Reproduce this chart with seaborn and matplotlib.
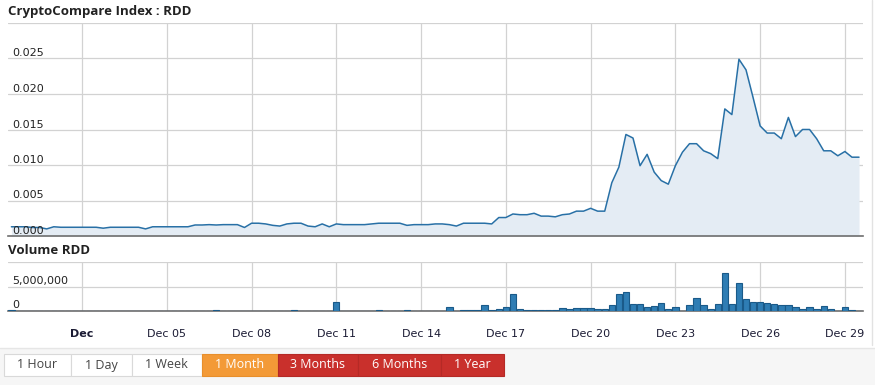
import numpy as np
import pandas as pd
import matplotlib
matplotlib.use("Agg")
import matplotlib.pyplot as plt
import seaborn as sns
from matplotlib.patches import Rectangle
from matplotlib.lines import Line2D
from matplotlib.transforms import blended_transform_factory

# ---------------- data ----------------
times = pd.date_range("2017-11-29 12:00", periods=121, freq="6h")

price = [
    0.0013, 0.0013, 0.0013, 0.0012, 0.0012, 0.0010, 0.0013, 0.00123, 0.00123, 0.00123,
    0.00123, 0.00123, 0.00123, 0.0011, 0.00123, 0.00123, 0.00123, 0.00123, 0.00123, 0.0010,
    0.0013, 0.0013, 0.0013, 0.0013, 0.0013, 0.0013, 0.00155, 0.00155, 0.0016, 0.00155,
    0.0016, 0.0016, 0.0016, 0.0012, 0.0018, 0.0018, 0.0017, 0.0015, 0.0014, 0.0017,
    0.0018, 0.0018, 0.0014, 0.0013, 0.0017, 0.0013, 0.0017, 0.0016, 0.0016, 0.0016,
    0.0016, 0.0017, 0.0018, 0.0018, 0.0018, 0.0018, 0.0015, 0.0016, 0.0016, 0.0016,
    0.0017, 0.0017, 0.0016, 0.0014, 0.0018, 0.0018, 0.0018, 0.0018, 0.0017, 0.0026,
    0.0026, 0.0031, 0.0030, 0.0030, 0.0032, 0.0028, 0.0028, 0.0027, 0.0030, 0.0031,
    0.0035, 0.0035, 0.0039, 0.0035, 0.0035, 0.0075, 0.0097, 0.0143, 0.0138, 0.0099,
    0.0115, 0.0090, 0.0078, 0.0073, 0.0099, 0.0118, 0.0130, 0.0130, 0.0120, 0.0116,
    0.0109, 0.0179, 0.0171, 0.0249, 0.0234, 0.0195, 0.0155, 0.0145, 0.0145, 0.0137,
    0.0167, 0.0140, 0.0150, 0.0150, 0.0137, 0.0120, 0.0120, 0.0113, 0.0119, 0.0111,
    0.0111,
]

volume = [
    200000, 30000, 30000, 30000, 30000, 30000, 30000, 30000, 30000, 30000,
    30000, 30000, 30000, 30000, 30000, 30000, 30000, 30000, 30000, 30000,
    30000, 30000, 30000, 30000, 30000, 30000, 30000, 30000, 30000, 200000,
    30000, 30000, 30000, 30000, 30000, 30000, 30000, 30000, 30000, 30000,
    200000, 30000, 30000, 30000, 30000, 30000, 1900000, 30000, 30000, 30000,
    30000, 30000, 200000, 30000, 30000, 30000, 200000, 30000, 30000, 30000,
    30000, 30000, 800000, 30000, 150000, 150000, 150000, 1270000, 150000, 500000,
    800000, 3400000, 500000, 300000, 300000, 150000, 150000, 150000, 550000, 350000,
    550000, 550000, 550000, 350000, 350000, 1270000, 3400000, 3800000, 1480000, 1480000,
    800000, 1000000, 1700000, 350000, 800000, 100000, 1270000, 2700000, 1270000, 500000,
    1480000, 7800000, 1480000, 5700000, 2460000, 1900000, 1900000, 1700000, 1480000, 1270000,
    1270000, 800000, 350000, 800000, 350000, 1060000, 350000, 30000, 800000, 150000,
    50000,
]

tick_days = [2, 5, 8, 11, 14, 17, 20, 23, 26, 29]
tick_labels = ["Dec", "Dec 05", "Dec 08", "Dec 11", "Dec 14", "Dec 17",
               "Dec 20", "Dec 23", "Dec 26", "Dec 29"]
price_grid = [0.0, 0.005, 0.010, 0.015, 0.020, 0.025, 0.030]
price_labels = ["0.000", "0.005", "0.010", "0.015", "0.020", "0.025"]
vol_grid = [0, 5000000, 10000000]
vol_labels = ["0", "5,000,000"]
buttons = ["1 Hour", "1 Day", "1 Week", "1 Month", "3 Months", "6 Months", "1 Year"]

# ---------------- style ----------------
sns.set_theme(style="white")
plt.rcParams["font.family"] = ["DejaVu Sans"]

W, H = 875, 385
fig = plt.figure(figsize=(W / 100, H / 100), dpi=100)
fig.patch.set_facecolor("white")


def axrect(x0, y0, x1, y1):
    return [x0 / W, 1 - y1 / H, (x1 - x0) / W, (y1 - y0) / H]


df = pd.DataFrame({
    "day": (times - pd.Timestamp("2017-11-30")) / pd.Timedelta(days=1),
    "price": price,
    "volume": volume,
})

LINE = "#2870a6"
FILL = "#e4ecf4"
GRID = "#d2d2d2"
XLIM = (-0.62, 29.63)

# ---------------- price panel ----------------
ax1 = fig.add_axes(axrect(8, 23, 862.7, 236))
ax1.fill_between(df["day"], df["price"], 0, color=FILL, lw=0, zorder=1)
sns.lineplot(data=df, x="day", y="price", ax=ax1, color=LINE, lw=1.1, zorder=3)
ax1.set_xlim(*XLIM)
ax1.set_ylim(0, 0.030)
ax1.set_xticks(tick_days)
ax1.set_yticks(price_grid)
ax1.grid(True, color=GRID, lw=0.9, zorder=0)
ax1.set_axisbelow(True)
ax1.tick_params(left=False, bottom=False, labelleft=False, labelbottom=False)
ax1.set_xlabel("")
ax1.set_ylabel("")
for s in ["top", "right", "left"]:
    ax1.spines[s].set_visible(False)
ax1.spines["bottom"].set_color("#6e6e6e")
ax1.spines["bottom"].set_linewidth(1.2)
tr1 = blended_transform_factory(ax1.transAxes, ax1.transData)
for v, lab in zip(price_grid, price_labels):
    ax1.text(0.005, v, lab, transform=tr1, ha="left", va="bottom", fontsize=8,
             color="#222222", zorder=5)
    
# ---------------- volume panel ----------------
ax2 = fig.add_axes(axrect(8, 262.3, 862.7, 311))
sns.barplot(data=df, x="day", y="volume", ax=ax2, native_scale=True, width=0.9,
            color="#2f7db4", edgecolor="#1a5a89", linewidth=0.8, saturation=1,
            errorbar=None, zorder=3)
ax2.set_xlim(*XLIM)
ax2.set_ylim(0, 10000000)
ax2.set_xticks(tick_days)
ax2.set_xticklabels(tick_labels)
ax2.set_yticks(vol_grid)
ax2.grid(True, color=GRID, lw=0.9, zorder=0)
ax2.set_axisbelow(True)
ax2.tick_params(left=False, bottom=False, labelleft=False, labelbottom=True,
                pad=7, labelsize=8, labelcolor="#1a1a33")
ax2.get_xticklabels()[0].set_fontweight("bold")
ax2.set_xlabel("")
ax2.set_ylabel("")
for s in ["top", "right", "left"]:
    ax2.spines[s].set_visible(False)
ax2.spines["bottom"].set_color("#6e6e6e")
ax2.spines["bottom"].set_linewidth(1.2)
tr2 = blended_transform_factory(ax2.transAxes, ax2.transData)
for v, lab in zip(vol_grid, vol_labels):
    ax2.text(0.005, v + 150000, lab, transform=tr2, ha="left", va="bottom", fontsize=8,
             color="#222222", zorder=5)

# ---------------- titles ----------------
fig.text(8 / W, 1 - 11 / H, "CryptoCompare Index : RDD", fontsize=9.5,
         fontweight="bold", family="Open Sans", color="#222222", va="center", ha="left")
fig.text(8 / W, 1 - 250 / H, "Volume RDD", fontsize=9.5,
         fontweight="bold", family="Open Sans", color="#222222", va="center", ha="left")

# right page border
fig.add_artist(Line2D([871.5 / W, 871.5 / W], [1 - 345 / H, 1], transform=fig.transFigure,
                      color="#e2e2e2", lw=1))

# ---------------- range buttons ----------------
fig.add_artist(Rectangle((0, 0), 1, 1 - 348 / H, transform=fig.transFigure,
                         facecolor="#f6f6f6", edgecolor="none", zorder=0))
fig.add_artist(Line2D([0, 1], [1 - 348 / H, 1 - 348 / H], transform=fig.transFigure,
                      color="#e6e6e6", lw=1))
edges = [3.5, 70.7, 131.7, 202, 277.7, 358.3, 440.7, 504.3]
faces = ["white", "white", "white", "#f39a37", "#c9302c", "#c9302c", "#c9302c"]
borders = ["#d9d9d9", "#d9d9d9", "#d9d9d9", "#e88f2c", "#b52a26", "#b52a26", "#b52a26"]
tcols = ["#444444", "#444444", "#444444", "white", "white", "white", "white"]
y0, y1 = 354, 376
for k, lab in enumerate(buttons):
    x0, x1 = edges[k], edges[k + 1]
    fig.add_artist(Rectangle((x0 / W, 1 - y1 / H), (x1 - x0) / W, (y1 - y0) / H,
                             transform=fig.transFigure, facecolor=faces[k],
                             edgecolor=borders[k], lw=0.8, zorder=2))
    fig.text((x0 + x1) / 2 / W, 1 - (y0 + y1) / 2 / H, lab, ha="center", va="center",
             fontsize=9, family="Open Sans", color=tcols[k], zorder=3)

fig.savefig("out.png", dpi=100)
